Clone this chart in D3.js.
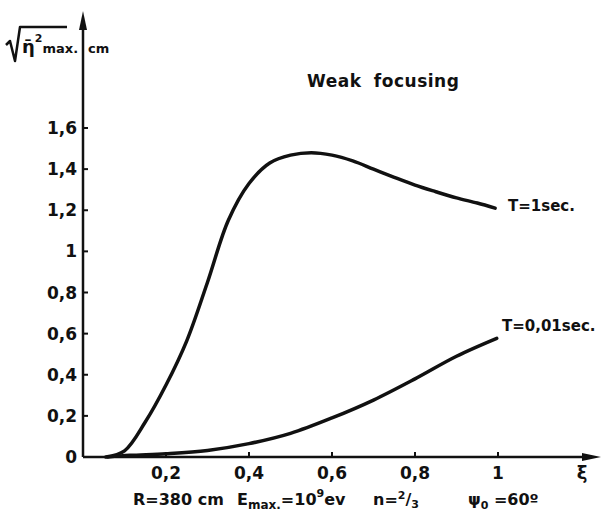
<!DOCTYPE html>
<html>
<head>
<meta charset="utf-8">
<script src="https://cdn.jsdelivr.net/npm/d3@7"></script>
<style>
  body { margin: 0; background: #fff; }
  text { font-family: "DejaVu Sans", sans-serif; font-weight: bold; fill: #111; }
</style>
</head>
<body>
<svg width="603" height="512"></svg>
<script>
// values
var xTicks = [0.2, 0.4, 0.6, 0.8, 1];
var xTickLabels = ["0,2", "0,4", "0,6", "0,8", "1"];
var yTicks = [0, 0.2, 0.4, 0.6, 0.8, 1, 1.2, 1.4, 1.6];
var yTickLabels = ["0", "0,2", "0,4", "0,6", "0,8", "1", "1,2", "1,4", "1,6"];

// T = 1 sec.
var xiSlow = [0.055, 0.1, 0.15, 0.2, 0.25, 0.3, 0.35, 0.4, 0.45, 0.5, 0.55, 0.6, 0.65, 0.7, 0.75, 0.8, 0.85, 0.9, 0.95, 0.993];
var etaSlow = [0, 0.03, 0.17, 0.35, 0.565, 0.85, 1.15, 1.33, 1.43, 1.468, 1.48, 1.468, 1.44, 1.40, 1.36, 1.322, 1.29, 1.26, 1.235, 1.21];

// T = 0,01 sec.
var xiFast = [0.06, 0.113, 0.2, 0.3, 0.4, 0.5, 0.6, 0.7, 0.8, 0.9, 0.997];
var etaFast = [0, 0.008, 0.016, 0.032, 0.065, 0.115, 0.19, 0.277, 0.38, 0.49, 0.577];

var svg = d3.select("svg");
var x = d3.scaleLinear().domain([0, 1]).range([83, 498]);
var y = d3.scaleLinear().domain([0, 1.6]).range([457, 128]);

var ox = x(0), oy = y(0);

// axes with arrows
svg.append("line").attr("x1", ox).attr("y1", oy).attr("x2", ox).attr("y2", 22)
  .attr("stroke", "#111").attr("stroke-width", 2.5);
svg.append("path").attr("d", "M" + ox + ",11 L" + (ox - 4) + ",30 L" + (ox + 4) + ",30 Z").attr("fill", "#111");
svg.append("line").attr("x1", ox).attr("y1", oy).attr("x2", 590).attr("y2", oy)
  .attr("stroke", "#111").attr("stroke-width", 2.5);
svg.append("path").attr("d", "M601," + oy + " L582," + (oy - 4) + " L582," + (oy + 4) + " Z").attr("fill", "#111");

// ticks
svg.selectAll(".xt").data(xTicks).enter().append("line")
  .attr("x1", function(d) { return x(d); }).attr("x2", function(d) { return x(d); })
  .attr("y1", oy).attr("y2", oy - 5)
  .attr("stroke", "#111").attr("stroke-width", 2);
svg.selectAll(".xl").data(xTicks).enter().append("text")
  .attr("x", function(d) { return x(d); }).attr("y", oy + 22)
  .attr("text-anchor", "middle").attr("font-size", 17)
  .text(function(d, i) { return xTickLabels[i]; });
svg.append("text").attr("x", 582).attr("y", oy + 22).attr("text-anchor", "middle")
  .attr("font-size", 18).attr("font-weight", "normal").text("ξ");

svg.selectAll(".yt").data(yTicks.slice(1)).enter().append("line")
  .attr("x1", ox).attr("x2", ox + 5)
  .attr("y1", function(d) { return y(d); }).attr("y2", function(d) { return y(d); })
  .attr("stroke", "#111").attr("stroke-width", 2);
svg.selectAll(".yl").data(yTicks).enter().append("text")
  .attr("x", 77).attr("y", function(d) { return y(d) + 6; })
  .attr("text-anchor", "end").attr("font-size", 17)
  .text(function(d, i) { return yTickLabels[i]; });

// curves
var line = d3.line()
  .x(function(d) { return x(d[0]); })
  .y(function(d) { return y(d[1]); })
  .curve(d3.curveCatmullRom.alpha(0.5));
svg.append("path").datum(d3.zip(xiSlow, etaSlow)).attr("d", line)
  .attr("fill", "none").attr("stroke", "#111").attr("stroke-width", 3.5).attr("stroke-linecap", "round");
svg.append("path").datum(d3.zip(xiFast, etaFast)).attr("d", line)
  .attr("fill", "none").attr("stroke", "#111").attr("stroke-width", 3.5).attr("stroke-linecap", "round");

// curve labels
svg.append("text").attr("x", 508).attr("y", 211).attr("font-size", 15).text("T=1sec.");
svg.append("text").attr("x", 502).attr("y", 331).attr("font-size", 15).text("T=0,01sec.");

// title
svg.append("text").attr("x", 307).attr("y", 87).attr("font-size", 17)
  .attr("font-weight", "normal").attr("letter-spacing", 0.5).attr("word-spacing", 6)
  .text("Weak focusing");

// y axis label: sqrt(eta^2 max.) cm, root sign drawn as a path
svg.append("path").attr("d", "M6,45 L10,41 L15,61 L20,27 L67,27")
  .attr("fill", "none").attr("stroke", "#111").attr("stroke-width", 2.5).attr("stroke-linejoin", "round");
var yl = svg.append("text").attr("x", 22).attr("y", 53).attr("font-size", 18);
yl.append("tspan").text("η̄");
yl.append("tspan").attr("font-size", 11).attr("dy", -11).text("2");
yl.append("tspan").attr("font-size", 13).attr("dy", 11).text("max.");
svg.append("text").attr("x", 88).attr("y", 53).attr("font-size", 13).text("cm");

// parameters line
var p = svg.append("text").attr("x", 133).attr("y", 505).attr("font-size", 16);
p.append("tspan").text("R=380 cm");
p.append("tspan").attr("x", 237).text("E");
p.append("tspan").attr("font-size", 12).attr("dy", 4).text("max.");
p.append("tspan").attr("dy", -4).text("=10");
p.append("tspan").attr("font-size", 11).attr("dy", -8).text("9");
p.append("tspan").attr("dy", 8).text("ev");
p.append("tspan").attr("x", 373).text("n=");
p.append("tspan").attr("font-size", 11).attr("dy", -6).text("2");
p.append("tspan").attr("dy", 6).text("/");
p.append("tspan").attr("font-size", 11).attr("dy", 3).text("3");
p.append("tspan").attr("x", 468).attr("dy", -3).text("ψ");
p.append("tspan").attr("font-size", 11).attr("dy", 4).text("0");
p.append("tspan").attr("dy", -4).text(" =60º");
</script>
</body>
</html>
